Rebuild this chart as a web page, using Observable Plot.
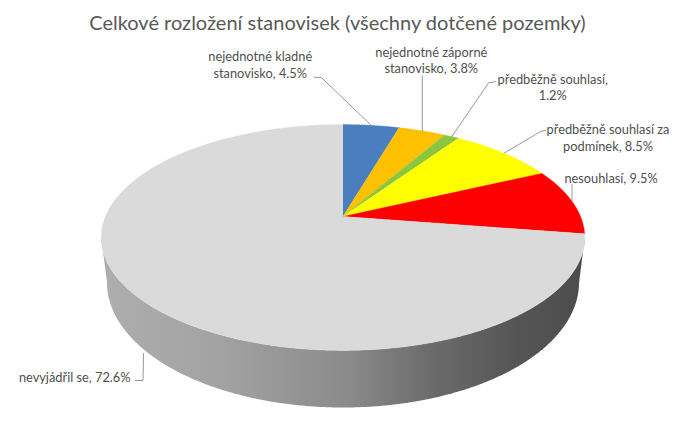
<!DOCTYPE html>
<html>
<head>
<meta charset="utf-8">
<script src="https://cdn.jsdelivr.net/npm/d3@7"></script>
<script src="https://cdn.jsdelivr.net/npm/@observablehq/plot@0.6"></script>
<style>
html,body{margin:0;padding:0;background:#fff;}
#title{height:44px;box-sizing:border-box;padding-top:9px;text-align:center;font:20px/26px Lato,sans-serif;color:#595959;width:675px;padding-right:0;}
svg{display:block;}
</style>
</head>
<body>
<div id="title">Celkové rozložení stanovisek (všechny dotčené pozemky)</div>
<div id="chart"></div>
<script>
const categories = ["nejednotné kladné stanovisko","nejednotné záporné stanovisko","předběžně souhlasí","předběžně souhlasí za podmínek","nesouhlasí","nevyjádřil se"];
const values = [4.5,3.8,1.2,8.5,9.5,72.6];
const valueLabels = ["4.5%","3.8%","1.2%","8.5%","9.5%","72.6%"];
const labelLines = [
  "nejednotné kladné\nstanovisko, 4.5%",
  "nejednotné záporné\nstanovisko, 3.8%",
  "předběžně souhlasí,\n1.2%",
  "předběžně souhlasí za\npodmínek, 8.5%",
  "nesouhlasí, 9.5%",
  "nevyjádřil se, 72.6%"
];
const colors = ["#4a7ebf","#ffc000","#8cc63f","#ffff00","#ff0000","#dadada"];

// layout of the tilted disc
const cx = 342.5, cy = 216, rx = 237.5, ry = 109, k = 0.186;
const botCy = 282, botRx = 236, botRy = 125;
const rim = a => {
  const u = Math.sin(a), v = -Math.cos(a), w = 1 - k * v;
  return {x: cx + rx * u / w, y: cy + ry * v / w};
};
const botRim = a => ({x: cx + botRx * Math.sin(a), y: botCy - botRy * Math.cos(a)});

// slices from the values, clockwise from 12 o'clock
const total = d3.sum(values);
let acc = 0;
const slices = values.map((v, i) => {
  const a0 = acc / total * 2 * Math.PI; acc += v;
  const a1 = acc / total * 2 * Math.PI;
  return {i, a0, a1, mid: (a0 + a1) / 2};
});
const step = Math.PI / 360;
const faces = slices.flatMap(s => {
  const pts = [{x: cx, y: cy, i: s.i}];
  for (let a = s.a0; a < s.a1; a += step) pts.push({...rim(a), i: s.i});
  pts.push({...rim(s.a1), i: s.i});
  return pts;
});

// side wall, between the widest points of the disc's rim and the lower rim
const wall = [];
const aR = Math.PI * 0.5 + Math.asin(k), aL = Math.PI * 1.5 - Math.asin(k);
for (let a = aR; a <= aL; a += step) wall.push(rim(a));
for (let a = Math.PI * 1.5; a >= Math.PI * 0.5; a -= step) wall.push(botRim(a));

// leader offsets and label places, relative to each slice's rim point
const leaderBends = [
  [[-50,-48],[-57,-48]],
  [[0,-55]],
  [[37,-54],[44,-55]],
  [[37,-22],[42,-23]],
  [[0,-17]],
  []
];
const labelDx = [-111, 9, 101, 104, 39, -63];
const labelDy = [-61, -71, -50, -16, -24, 80];

const rimPts = slices.map(s => rim(s.mid));
const leaders = slices.flatMap((s, i) => {
  const p = rimPts[i];
  const pts = i === 5 ? [{x:143,y:353},{x:142.5,y:380},{x:135,y:380}]
    : [{x: p.x, y: p.y}, ...leaderBends[i].map(([dx,dy]) => ({x:p.x+dx,y:p.y+dy}))];
  return pts.map(q => ({...q, i}));
});
const labels = slices.map((s, i) => ({
  x: rimPts[i].x + labelDx[i], y: rimPts[i].y + labelDy[i], text: labelLines[i]
}));

const defs = () => {
  const ns = "http://www.w3.org/2000/svg";
  const d = document.createElementNS(ns, "defs");
  const g = document.createElementNS(ns, "linearGradient");
  g.setAttribute("id", "wallShade");
  [[0,"#aeaeae"],[0.25,"#a2a2a2"],[0.5,"#8c8c8c"],[0.68,"#6c6c6c"],[0.85,"#565656"],[1,"#4c4c4c"]].forEach(([o,c]) => {
    const st = document.createElementNS(ns, "stop");
    st.setAttribute("offset", o); st.setAttribute("stop-color", c);
    g.appendChild(st);
  });
  d.appendChild(g);
  return d;
};

const chart = Plot.plot({
  width: 675, height: 377,
  margin: 0,
  x: {domain: [0, 675], range: [0, 675], axis: null},
  y: {domain: [44, 421], range: [0, 377], axis: null},
  marks: [
    defs,
    Plot.line(wall, {x: "x", y: "y", fill: "url(#wallShade)", stroke: "none"}),
    ...colors.map((c, i) => Plot.line(faces.filter(d => d.i === i), {x: "x", y: "y", fill: c, stroke: c, strokeWidth: 0.4})),
    Plot.line(leaders, {x: "x", y: "y", z: "i", stroke: "#8c8c8c", strokeWidth: 0.9}),
    Plot.text(labels, {x: "x", y: "y", text: "text", fontFamily: "Lato, sans-serif", fontSize: 12.8, fill: "#4f4f4f", lineHeight: 1.3, textAnchor: "middle"})
  ]
});
document.getElementById("chart").appendChild(chart);
</script>
</body>
</html>
